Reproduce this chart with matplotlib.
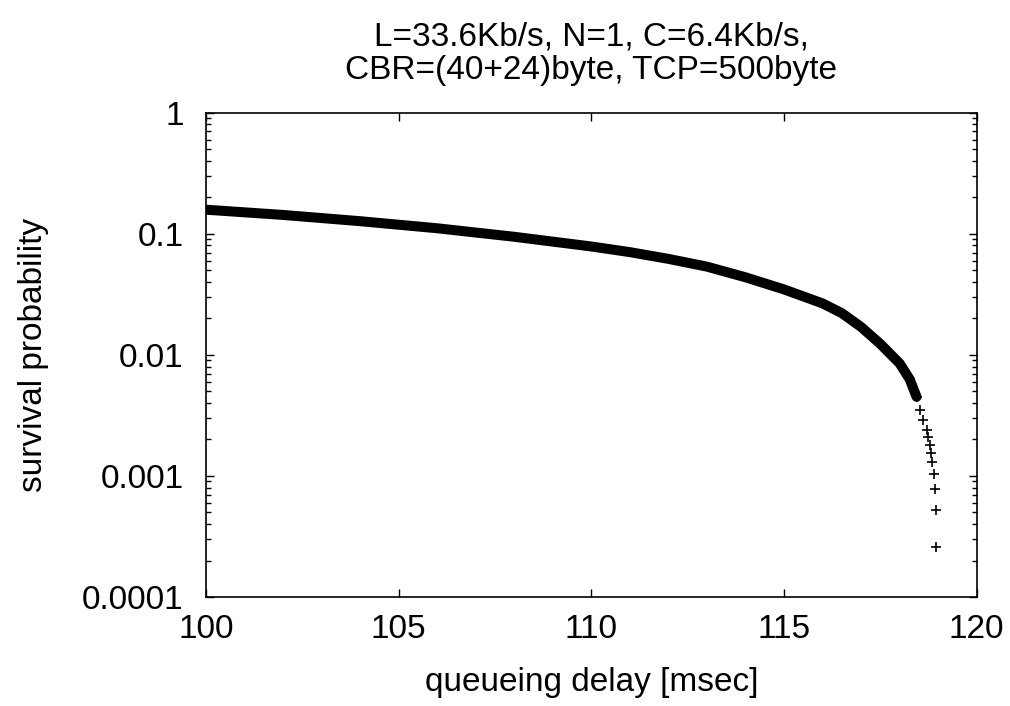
import matplotlib
matplotlib.use("Agg")
import matplotlib.pyplot as plt
from matplotlib.ticker import LogLocator, NullFormatter, FixedLocator

plt.rcParams['font.family'] = ['Liberation Sans', 'DejaVu Sans']

# dense part of the survival curve
band_delay = [100.0, 102.0, 104.0, 106.0, 108.0, 110.0, 111.0, 112.0, 113.0,
              114.0, 115.0, 116.0, 116.5, 117.0, 117.5, 118.0, 118.26, 118.44]
band_prob = [0.158, 0.143, 0.127, 0.111, 0.0944, 0.0785, 0.0705, 0.0620,
             0.0535, 0.0437, 0.0347, 0.0266, 0.0221, 0.0170, 0.0123, 0.0085,
             0.0063, 0.0045]

# separate '+' points in the tail
tail_delay = [118.26, 118.36, 118.44, 118.52, 118.60, 118.70, 118.73, 118.78,
              118.82, 118.85, 118.88, 118.91, 118.94, 118.95]
tail_prob = [0.0063, 0.0053, 0.0045, 0.0035, 0.0029, 0.0024, 0.0021, 0.0018,
             0.00155, 0.0013, 0.00104, 0.00078, 0.00052, 0.00026]

xticks = [100, 105, 110, 115, 120]
yticks = [0.0001, 0.001, 0.01, 0.1, 1]
ylabels = ['0.0001', '0.001', '0.01', '0.1', '1']

fig = plt.figure(figsize=(10.1, 7.06), dpi=100)
ax = fig.add_axes([0.204, 0.1544, 0.763, 0.686])

ax.plot(band_delay, band_prob, color='black', lw=7.2, solid_capstyle='round',
        solid_joinstyle='round')
ax.plot(tail_delay, tail_prob, ls='none', marker='+', ms=7.5, mew=1.2, color='black')

ax.set_yscale('log')
ax.set_xlim(100, 120)
ax.set_ylim(0.0001, 1)

ax.xaxis.set_major_locator(FixedLocator(xticks))
ax.set_xticklabels([str(t) for t in xticks])
ax.set_yticks(yticks)
ax.set_yticklabels(ylabels)
ax.yaxis.set_minor_locator(LogLocator(base=10, subs=range(2, 10)))
ax.yaxis.set_minor_formatter(NullFormatter())

ax.tick_params(which='both', direction='in', top=True, right=True, labelsize=24)
ax.tick_params(axis='x', which='major', length=6, width=1, pad=12)
ax.tick_params(axis='y', which='major', length=6, width=1, pad=16)
ax.tick_params(axis='y', which='minor', length=3.5, width=1)
for s in ax.spines.values():
    s.set_linewidth(1.2)

ax.set_xlabel('queueing delay [msec]', fontsize=24, labelpad=16)
ax.set_ylabel('survival probability', fontsize=24, labelpad=24)
ax.set_title('L=33.6Kb/s, N=1, C=6.4Kb/s,\nCBR=(40+24)byte, TCP=500byte',
             fontsize=24, pad=24, linespacing=1.12)

fig.savefig('out.png', dpi=100)
